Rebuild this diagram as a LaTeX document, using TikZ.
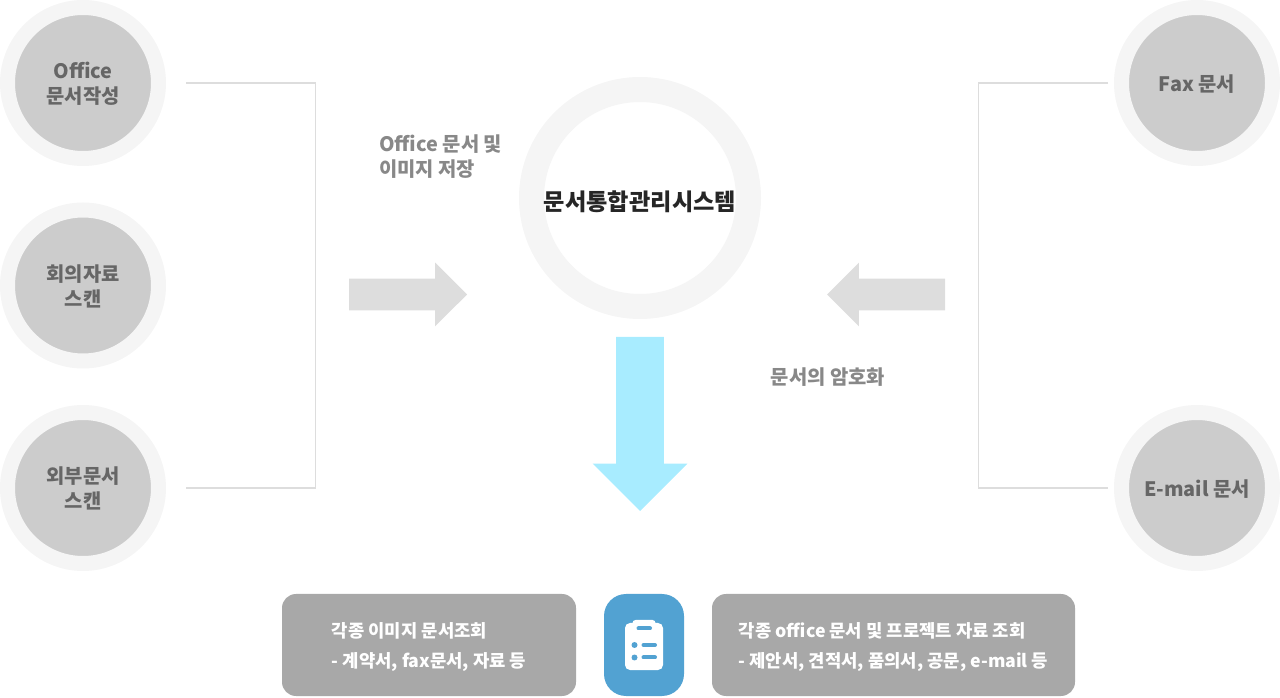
\documentclass[tikz,border=0pt]{standalone}
\usepackage{fontspec}
\setmainfont{Noto Sans CJK KR}
\usetikzlibrary{shapes, arrows, positioning, shapes.geometric}
\definecolor{ringgray}{RGB}{245,245,245}
\definecolor{docgray}{RGB}{204,204,204}
\definecolor{doctext}{RGB}{102,102,102}
\definecolor{labeltext}{RGB}{136,136,136}
\definecolor{linegray}{RGB}{221,221,221}
\definecolor{boxgray}{RGB}{168,168,168}
\definecolor{iconblue}{RGB}{82,162,210}
\definecolor{flowcyan}{RGB}{168,236,255}
\tikzset{
    source/.style={circle, draw=ringgray, line width=0.3cm, fill=docgray, text=doctext, minimum size=3.02cm, inner sep=0pt, text depth=0pt, align=center, font=\fontsize{11.3}{14.2}\selectfont\bfseries},
    graylabel/.style={text=labeltext, font=\fontsize{11.3}{14.2}\selectfont\bfseries},
    blockarrow/.style={single arrow, anchor=tail, fill=linegray, minimum height=2.36cm, minimum width=1.26cm, single arrow head extend=0.32cm, single arrow tip angle=90, inner sep=0.31cm, outer sep=0pt},
    resultbox/.style={rounded corners=0.28cm, fill=boxgray, text=white, minimum height=2.04cm, text depth=0pt, align=left, font=\fontsize{10.1}{17}\selectfont\bfseries}
}
\begin{document}
\begin{tikzpicture}
    \useasboundingbox (0,0) rectangle (25.6,13.94);

    % Sources on the left
    \node[source] (office) at (1.66, 12.28) {Office\\문서작성};
    \node[source] (meeting) at (1.66, 8.23) {회의자료\\스캔};
    \node[source] (outside) at (1.66, 4.18) {외부문서\\스캔};

    % Sources on the right
    \node[source] (fax) at (23.94, 12.28) {Fax 문서};
    \node[source] (email) at (23.94, 4.18) {E-mail 문서};

    % Brackets
    \coordinate (officeend) at (3.72, 12.28);
    \coordinate (outsideend) at (3.72, 4.18);
    \coordinate (faxend) at (22.16, 12.28);
    \coordinate (emailend) at (22.16, 4.18);
    \coordinate (leftup) at (6.31, 12.28);
    \coordinate (leftdown) at (6.31, 4.18);
    \coordinate (rightup) at (19.57, 12.28);
    \coordinate (rightdown) at (19.57, 4.18);
    \draw[linegray, line width=0.025cm] (officeend) -- (leftup) -- (leftdown) -- (outsideend);
    \draw[linegray, line width=0.025cm] (faxend) -- (rightup) -- (rightdown) -- (emailend);

    % Central system
    \node[circle, draw=ringgray, line width=0.5cm, fill=white, minimum size=4.34cm, inner sep=0pt, text height=0.5cm, text depth=0pt, text=black!85, font=\fontsize{13.2}{14}\selectfont\bfseries] (system) at (12.8, 9.98) {문서통합관리시스템};

    % Labels
    \node[graylabel, align=left, anchor=west, inner sep=0pt] (storelabel) at (7.58, 10.81) {Office 문서 및\\이미지 저장};
    \node[graylabel, inner sep=0pt] (cryptlabel) at (16.56, 6.4) {문서의 암호화};

    % Block arrows
    \node[blockarrow] (arrowleft) at (6.98, 8.05) {};
    \node[blockarrow, shape border rotate=180] (arrowright) at (18.9, 8.05) {};
    \node[blockarrow, fill=flowcyan, shape border rotate=270, minimum height=3.48cm, minimum width=1.88cm, single arrow head extend=0.47cm, inner sep=0.47cm] (arrowdown) at (12.8, 7.2) {};

    % Results
    \node[resultbox, minimum width=5.88cm] (images) at (8.58, 1.04) {각종 이미지 문서조회\\- 계약서, fax문서, 자료 등};
    \node[resultbox, minimum width=7.26cm] (offices) at (17.87, 1.04) {각종 office 문서 및 프로젝트 자료 조회\\- 제안서, 견적서, 품의서, 공문, e-mail 등};

    % Icon
    \node[rounded corners=0.44cm, fill=iconblue, minimum width=1.6cm, minimum height=2.04cm] (icon) at (12.88, 1.04) {};
    \node[rounded corners=0.1cm, fill=white, minimum width=0.76cm, minimum height=0.94cm, inner sep=0pt] (clipboard) at (12.88, 1.01) {};
    \node[rounded corners=0.06cm, fill=white, minimum width=0.46cm, minimum height=0.14cm, inner sep=0pt] (cliptab) at (12.88, 1.47) {};
    \draw[iconblue, line width=0.08cm, line cap=round] (12.77, 1.37) -- (13.0, 1.37);
    \draw[iconblue, line width=0.08cm, line cap=round] (12.87, 1.04) -- (13.1, 1.04);
    \draw[iconblue, line width=0.08cm, line cap=round] (12.87, 0.79) -- (13.1, 0.79);
    \fill[iconblue] (12.69, 1.04) circle (0.06);
    \fill[iconblue] (12.69, 0.79) circle (0.06);
\end{tikzpicture}
\end{document}
